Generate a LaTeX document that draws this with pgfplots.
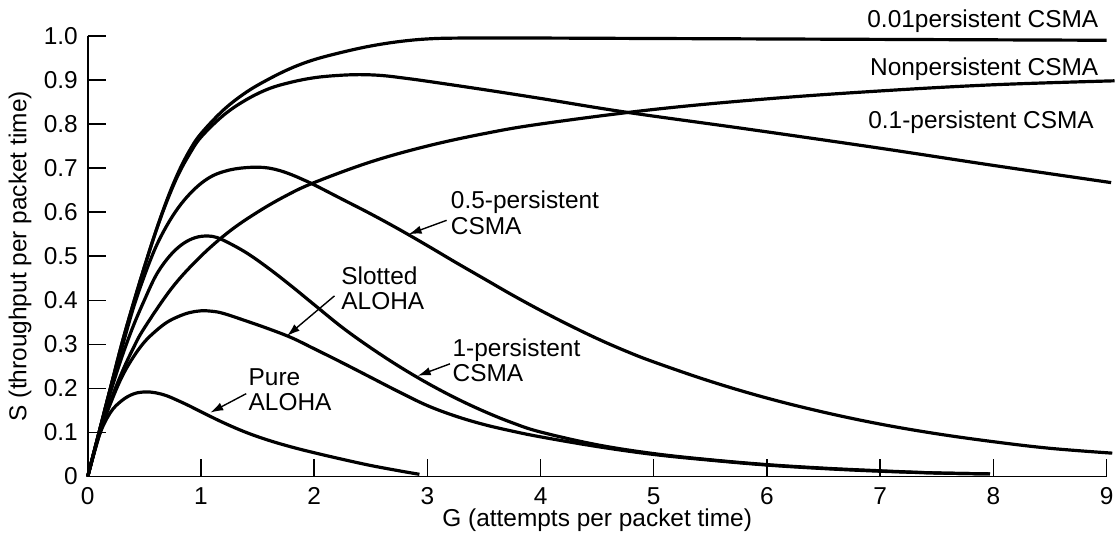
\documentclass[border=0pt]{standalone}
\usepackage{fontspec}
\setmainfont{Liberation Sans}
\usepackage{pgfplots}
\pgfplotsset{compat=1.18}
\usetikzlibrary{arrows.meta}

\begin{document}
\begin{tikzpicture}[lbl/.style={font=\fontsize{12.3}{14.8}\selectfont, inner sep=0pt},
  arr/.style={-{Latex[length=6.5bp,width=4.2bp]}, line width=0.7bp}]
\begin{axis}[
    scale only axis,
    width=511bp, height=221bp,
    xmin=0, xmax=9, ymin=0, ymax=1,
    axis lines=left,
    axis line style={-, line width=0.85bp},
    tick align=inside,
    major tick length=9bp,
    tick style={line width=0.7bp, black},
    xtick={0,1,...,9},
    ytick={0,0.1,0.2,0.3,0.4,0.5,0.6,0.7,0.8,0.9,1.0},
    yticklabels={0,0.1,0.2,0.3,0.4,0.5,0.6,0.7,0.8,0.9,1.0},
    /pgf/number format/assume math mode=true,
    every tick label/.append style={font=\fontsize{12.3}{14.8}\selectfont},
    yticklabel style={xshift=-1.5bp},
    xticklabel style={yshift=-2bp},
    xlabel={G (attempts per packet time)},
    ylabel={S (throughput per packet time)},
    every axis x label/.style={at={(axis description cs:0.5,-0.0984)}, anchor=center, font=\fontsize{12.3}{14.8}\selectfont},
    every axis y label/.style={at={(axis description cs:-0.0665,0.5)}, anchor=center, rotate=90, font=\fontsize{12.3}{14.8}\selectfont},
    clip=false,
    every axis plot post/.append style={black, solid, line width=1.6bp, smooth, tension=0.6, mark=none},
]
% Pure ALOHA
\addplot coordinates {(0,0)(0.1,0.092)(0.2,0.145)(0.3,0.172)(0.4,0.187)(0.5,0.192)(0.6,0.19)(0.7,0.183)(0.8,0.172)(0.9,0.16)(1.0,0.147)(1.2,0.122)(1.4,0.1)(1.6,0.082)(1.8,0.067)(2.0,0.054)(2.25,0.039)(2.5,0.025)(2.75,0.013)(2.93,0.005)};
% Slotted ALOHA
\addplot coordinates {(0,0)(0.1,0.095)(0.2,0.165)(0.3,0.225)(0.4,0.27)(0.5,0.305)(0.6,0.33)(0.7,0.35)(0.8,0.363)(0.9,0.372)(1.0,0.376)(1.1,0.375)(1.2,0.37)(1.4,0.353)(1.6,0.335)(1.8,0.315)(2.0,0.29)(2.25,0.258)(2.5,0.225)(2.75,0.192)(3.0,0.161)(3.25,0.137)(3.5,0.118)(3.75,0.103)(4.0,0.09)(4.5,0.068)(5.0,0.05)(5.5,0.037)(6.0,0.026)(6.5,0.018)(7.0,0.012)(7.5,0.008)(7.97,0.006)};
% 1-persistent CSMA
\addplot coordinates {(0,0)(0.1,0.1)(0.2,0.19)(0.3,0.27)(0.4,0.34)(0.5,0.4)(0.6,0.455)(0.7,0.493)(0.8,0.52)(0.9,0.537)(1.0,0.545)(1.1,0.545)(1.2,0.536)(1.4,0.508)(1.6,0.472)(1.8,0.432)(2.0,0.39)(2.25,0.338)(2.5,0.292)(2.75,0.25)(3.0,0.212)(3.25,0.178)(3.5,0.148)(3.75,0.122)(4.0,0.101)(4.5,0.072)(5.0,0.052)(5.5,0.038)(6.0,0.027)(6.5,0.019)(7.0,0.013)(7.5,0.008)(7.97,0.006)};
% 0.5-persistent CSMA
\addplot coordinates {(0,0)(0.1,0.1)(0.2,0.2)(0.3,0.29)(0.4,0.38)(0.5,0.455)(0.6,0.52)(0.7,0.57)(0.8,0.61)(0.9,0.641)(1.0,0.665)(1.1,0.682)(1.2,0.692)(1.3,0.698)(1.4,0.701)(1.5,0.702)(1.6,0.7)(1.7,0.694)(1.8,0.685)(1.9,0.674)(2.0,0.662)(2.25,0.629)(2.5,0.596)(2.75,0.561)(3.0,0.524)(3.25,0.486)(3.5,0.449)(3.75,0.412)(4.0,0.377)(4.25,0.344)(4.5,0.313)(4.75,0.285)(5.0,0.26)(5.5,0.216)(6.0,0.178)(6.5,0.146)(7.0,0.119)(7.5,0.097)(8.0,0.079)(8.5,0.064)(9.05,0.053)};
% 0.1-persistent CSMA
\addplot coordinates {(0,0)(0.1,0.1)(0.2,0.2)(0.3,0.3)(0.4,0.39)(0.5,0.475)(0.6,0.555)(0.7,0.625)(0.8,0.685)(0.9,0.732)(1.0,0.77)(1.2,0.82)(1.4,0.855)(1.6,0.88)(1.8,0.895)(2.0,0.905)(2.2,0.91)(2.4,0.912)(2.6,0.91)(2.8,0.904)(3.0,0.897)(3.5,0.878)(4.0,0.858)(4.75,0.827)(5.84,0.788)(7.0,0.745)(8.0,0.706)(9.04,0.667)};
% Nonpersistent CSMA
\addplot coordinates {(0,0)(0.1,0.092)(0.2,0.17)(0.3,0.235)(0.4,0.29)(0.5,0.337)(0.75,0.43)(1.0,0.5)(1.25,0.556)(1.5,0.6)(1.75,0.637)(2.0,0.667)(2.5,0.714)(3.0,0.75)(3.5,0.778)(4.0,0.8)(5.0,0.833)(6.0,0.857)(7.0,0.875)(8.0,0.889)(9.07,0.898)};
% 0.01-persistent CSMA
\addplot coordinates {(0,0)(0.1,0.1)(0.2,0.2)(0.3,0.3)(0.4,0.39)(0.5,0.475)(0.6,0.555)(0.7,0.628)(0.8,0.69)(0.9,0.74)(1.0,0.778)(1.2,0.832)(1.4,0.872)(1.6,0.902)(1.8,0.927)(2.0,0.946)(2.25,0.963)(2.5,0.977)(2.75,0.987)(3.0,0.993)(3.3,0.995)(4,0.995)(5,0.994)(6,0.993)(7,0.992)(8,0.991)(9,0.99)};

% curve labels
\node[lbl, anchor=base east] at (axis cs:8.93,1.020) {0.01persistent CSMA};
\node[lbl, anchor=base east] at (axis cs:8.93,0.9095) {Nonpersistent CSMA};
\node[lbl, anchor=base east] at (axis cs:8.89,0.7896) {0.1-persistent CSMA};
\node[lbl, anchor=base west] at (axis cs:3.205,0.6086) {0.5-persistent};
\node[lbl, anchor=base west] at (axis cs:3.205,0.550) {CSMA};
\draw[arr] (axis cs:3.17,0.5814) -- (axis cs:2.835,0.5498);
\node[lbl, anchor=base west] at (axis cs:2.237,0.4367) {Slotted};
\node[lbl, anchor=base west] at (axis cs:2.237,0.378) {ALOHA};
\draw[arr] (axis cs:2.18,0.41) -- (axis cs:1.76,0.319);
\node[lbl, anchor=base west] at (axis cs:3.22,0.2715) {1-persistent};
\node[lbl, anchor=base west] at (axis cs:3.22,0.215) {CSMA};
\draw[arr] (axis cs:3.2,0.2557) -- (axis cs:2.915,0.2285);
\node[lbl, anchor=base west] at (axis cs:1.418,0.206) {Pure};
\node[lbl, anchor=base west] at (axis cs:1.418,0.149) {ALOHA};
\draw[arr] (axis cs:1.40,0.188) -- (axis cs:1.083,0.145);

\path (axis description cs:-0.0861,-0.1425) rectangle (axis description cs:1.0098,1.0814);
\end{axis}
\end{tikzpicture}
\end{document}
